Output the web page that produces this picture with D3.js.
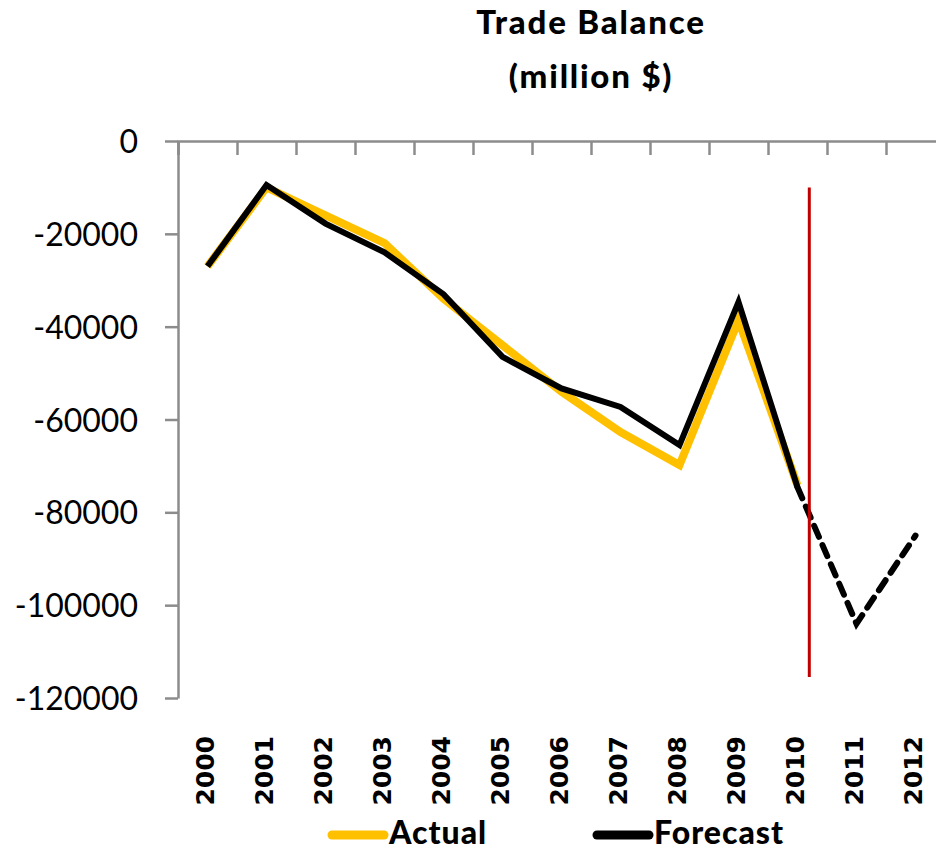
<!DOCTYPE html>
<html>
<head>
<meta charset="utf-8">
<script src="https://cdn.jsdelivr.net/npm/d3@7"></script>
<style>
  html, body { margin: 0; padding: 0; background: #fff; }
  svg { display: block; }
</style>
</head>
<body>
<svg id="chart" width="936" height="851"></svg>
<script>
const years = ["2000","2001","2002","2003","2004","2005","2006","2007","2008","2009","2010","2011","2012"];
const actual = [-27000, -10000, -16000, -22000, -34000, -44000, -54000, -62700, -69800, -38600, -74200];
const forecast = [-27000, -9500, -17800, -24000, -33000, -46500, -53300, -57300, -65500, -34700, -74600, -104000, -85000];
const forecastSplit = "2010";
const yTicks = [0, -20000, -40000, -60000, -80000, -100000, -120000];
const markerYear = "2010";
const markerOffset = 0.2;           // fraction of a category past the year's centre
const markerRange = [-10000, -115500];
const titleLines = ["Trade Balance", "(million $)"];
const legendItems = [{name: "Actual", color: "#FFC000"}, {name: "Forecast", color: "#000000"}];

const svg = d3.select("#chart");
const mLeft = 178, mTop = 141, mBottom = 698, step = 59;
const mRight = mLeft + step * years.length;

const x = d3.scaleBand().domain(years).range([mLeft, mRight]).padding(0);
const xEdge = d3.scaleLinear().domain([0, years.length]).range([mLeft, mRight]);
const y = d3.scaleLinear().domain([-120000, 0]).range([mBottom, mTop]);
const cx = d => x(d) + x.bandwidth() / 2;

const axisColor = "#8c8c8c";

// Title
svg.append("g").selectAll("text").data(titleLines).join("text")
  .attr("x", 591).attr("y", (d, i) => 34 + i * 54)
  .attr("text-anchor", "middle")
  .style("font-family", "Lato, 'Open Sans', sans-serif")
  .style("font-weight", "900").style("font-size", "33px")
  .style("letter-spacing", "1.8px")
  .attr("fill", "#000").text(d => d);

// Top (category) axis: line at y = 0 with ticks between categories
const topAxis = d3.axisBottom(xEdge).tickValues(d3.range(0, years.length + 1)).tickSize(14).tickFormat("");
const gTop = svg.append("g").attr("transform", `translate(0,${y(0)})`).call(topAxis);
gTop.select(".domain").attr("stroke", axisColor).attr("stroke-width", 2.5);
gTop.selectAll(".tick line").attr("stroke", axisColor).attr("stroke-width", 2.5);

// Y axis
const yAxis = d3.axisLeft(y).tickValues(yTicks).tickSize(13).tickSizeOuter(0)
  .tickFormat(d => String(d)).tickPadding(27);
const gY = svg.append("g").attr("transform", `translate(${mLeft},0)`).call(yAxis);
gY.select(".domain").attr("stroke", axisColor).attr("stroke-width", 2.5);
gY.selectAll(".tick line").attr("stroke", axisColor).attr("stroke-width", 2.5);
gY.selectAll(".tick text")
  .style("font-family", "Lato, 'Open Sans', sans-serif")
  .style("font-size", "32px").style("font-weight", "normal")
  .attr("fill", "#000").attr("dy", "0.36em");

// X labels (rotated)
svg.append("g").selectAll("text").data(years).join("text")
  .attr("transform", d => `translate(${cx(d) + 6},736) rotate(-90)`)
  .attr("text-anchor", "end")
  .style("font-family", "'DejaVu Sans', sans-serif")
  .style("font-weight", "bold").style("font-size", "25px")
  .attr("fill", "#000").text(d => d);

// Lines
const line = d3.line().x(d => cx(d.year)).y(d => y(d.value));
const actualData = actual.map((v, i) => ({year: years[i], value: v}));
const fcData = forecast.map((v, i) => ({year: years[i], value: v}));
const splitIdx = years.indexOf(forecastSplit);

svg.append("path").datum(actualData).attr("d", line)
  .attr("fill", "none").attr("stroke", "#FFC000").attr("stroke-width", 8)
  .attr("stroke-linejoin", "miter");
svg.append("path").datum(fcData.slice(0, splitIdx + 1)).attr("d", line)
  .attr("fill", "none").attr("stroke", "#000").attr("stroke-width", 6)
  .attr("stroke-linejoin", "miter");
svg.append("path").datum(fcData.slice(splitIdx)).attr("d", line)
  .attr("fill", "none").attr("stroke", "#000").attr("stroke-width", 6)
  .attr("stroke-dasharray", "12,9").attr("stroke-linecap", "round")
  .attr("stroke-linejoin", "miter");

// Red marker line
const mx = cx(markerYear) + markerOffset * step;
svg.append("line")
  .attr("x1", mx).attr("x2", mx)
  .attr("y1", y(markerRange[0])).attr("y2", y(markerRange[1]))
  .attr("stroke", "#C00000").attr("stroke-width", 3);

// Legend
const legend = svg.append("g");
const legendX = [328, 593];
legendItems.forEach((it, i) => {
  const g = legend.append("g").attr("transform", `translate(${legendX[i]},835)`);
  g.append("line").attr("x1", 4).attr("x2", 56).attr("y1", 0).attr("y2", 0)
    .attr("stroke", it.color).attr("stroke-width", 9).attr("stroke-linecap", "round");
  g.append("text").attr("x", 61).attr("y", 9)
    .style("font-family", "Lato, 'Open Sans', sans-serif")
    .style("font-weight", "900").style("font-size", "32px")
    .style("letter-spacing", "1px")
    .attr("fill", "#000").text(it.name);
});
</script>
</body>
</html>
